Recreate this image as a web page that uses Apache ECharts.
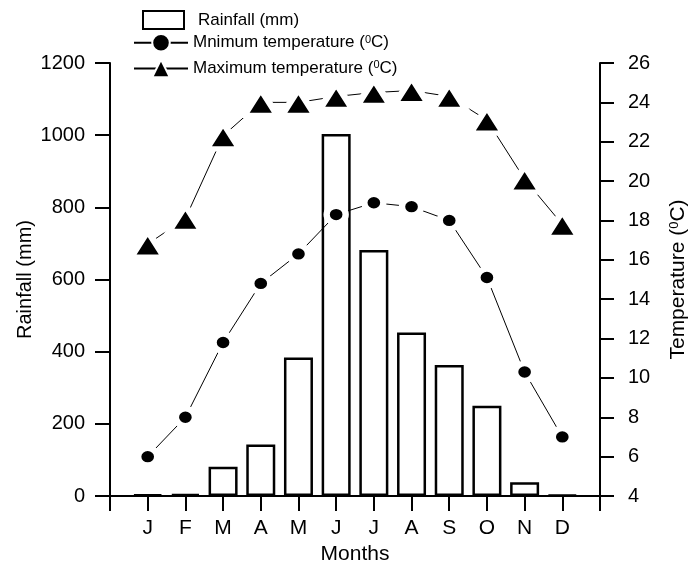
<!DOCTYPE html>
<html>
<head>
<meta charset="utf-8">
<script src="https://cdn.jsdelivr.net/npm/echarts@6/dist/echarts.min.js"></script>
<style>
  html, body { margin: 0; padding: 0; background: #fff; }
  #chart { width: 691px; height: 569px; }
</style>
</head>
<body>
<div id="chart"></div>
<script>
// monthly climate data
var months = ['J', 'F', 'M', 'A', 'M', 'J', 'J', 'A', 'S', 'O', 'N', 'D'];
var rainfall = [4, 5, 81, 143, 384, 1003, 682, 453, 363, 250, 38, 3];
var minTemp = [6.0, 8.0, 11.8, 14.8, 16.3, 18.3, 18.9, 18.7, 18.0, 15.1, 10.3, 7.0];
var maxTemp = [16.8, 18.1, 22.3, 24.0, 24.0, 24.3, 24.5, 24.6, 24.3, 23.1, 20.1, 17.8];
var rainTicks = [0, 1200, 200];   // min, max, step
var tempTicks = [4, 26, 2];

// empty slot at each end so the months sit inside the frame
var cats = [''].concat(months, ['']);
var pad = function (arr) { return [null].concat(arr, [null]); };

var font = "'Liberation Sans', Arial, Helvetica, sans-serif";
var myChart = echarts.init(document.getElementById('chart'));

myChart.setOption({
    backgroundColor: '#fff',
    animation: false,
    textStyle: { fontFamily: font, color: '#000' },
    grid: { left: 110, right: 91, top: 63, bottom: 73, containLabel: false, outerBoundsMode: 'none' },
    legend: [{
        // bar legend
        data: [{ name: 'Rainfall (mm)', icon: 'rect' }],
        orient: 'vertical',
        left: 137,
        top: 5,
        itemWidth: 41,
        itemHeight: 18,
        itemStyle: { borderWidth: 2 },
        textStyle: { fontSize: 17, color: '#000', fontFamily: font, padding: [0, 0, 0, 9] }
    }, {
        data: ['Mnimum temperature', 'Maximum temperature'],
        orient: 'vertical',
        left: 128,
        top: 28,
        itemWidth: 54,
        itemHeight: 22,
        itemGap: 6,
        formatter: function (name) {
            return '{t|' + name + ' (}{s|0}{t|C)}';
        },
        textStyle: {
            color: '#000',
            fontFamily: font,
            rich: {
                t: { fontSize: 17, fontFamily: font },
                s: { fontSize: 11, fontFamily: font, verticalAlign: 'top' }
            }
        }
    }],
    xAxis: {
        type: 'category',
        data: cats,
        boundaryGap: false,
        name: 'Months',
        nameLocation: 'middle',
        nameGap: 42,
        nameTextStyle: { fontSize: 21, color: '#000' },
        axisLine: { lineStyle: { color: '#000', width: 2 } },
        axisTick: { length: 15, lineStyle: { color: '#000', width: 2 } },
        axisLabel: { fontSize: 21, color: '#000', margin: 22 },
        splitLine: { show: false }
    },
    yAxis: [{
        type: 'value',
        min: rainTicks[0],
        max: rainTicks[1],
        interval: rainTicks[2],
        name: 'Rainfall (mm)',
        nameLocation: 'middle',
        nameGap: 75,
        nameMoveOverlap: false,
        nameTextStyle: { fontSize: 20, color: '#000' },
        axisLine: { show: true, lineStyle: { color: '#000', width: 2 } },
        axisTick: { show: true, length: 15, lineStyle: { color: '#000', width: 2 } },
        axisLabel: {
            fontSize: 20, color: '#000', margin: 25,
            formatter: function (v) { return String(v); }
        },
        splitLine: { show: false }
    }, {
        type: 'value',
        position: 'right',
        min: tempTicks[0],
        max: tempTicks[1],
        interval: tempTicks[2],
        name: '{t|Temperature (}{s|0}{t|C)}',
        nameLocation: 'middle',
        nameGap: 68,
        nameMoveOverlap: false,
        nameTextStyle: {
            color: '#000',
            rich: {
                t: { fontSize: 21, fontFamily: font },
                s: { fontSize: 13, fontFamily: font, verticalAlign: 'top' }
            }
        },
        axisLine: { show: true, lineStyle: { color: '#000', width: 2 } },
        axisTick: { show: true, length: 14, lineStyle: { color: '#000', width: 2 } },
        axisLabel: { fontSize: 20, color: '#000', margin: 28 },
        splitLine: { show: false }
    }],
    series: [{
        name: 'Rainfall (mm)',
        type: 'bar',
        yAxisIndex: 0,
        barWidth: 29,
        itemStyle: { color: '#fff', borderColor: '#000', borderWidth: 2.5 },
        data: pad(rainfall)
    }, {
        name: 'Mnimum temperature',
        type: 'line',
        yAxisIndex: 1,
        symbol: 'circle',
        symbolSize: [19, 17],
        // white rim leaves the small gap between line and marker
        itemStyle: { color: '#000', borderColor: '#fff', borderWidth: 6 },
        lineStyle: { color: '#000', width: 1 },
        data: pad(minTemp)
    }, {
        name: 'Maximum temperature',
        type: 'line',
        yAxisIndex: 1,
        symbol: 'triangle',
        symbolSize: [33, 26],
        itemStyle: { color: '#000', borderColor: '#fff', borderWidth: 6 },
        lineStyle: { color: '#000', width: 1 },
        data: pad(maxTemp)
    }]
});
window.addEventListener('resize', () => myChart.resize());
</script>
</body>
</html>
